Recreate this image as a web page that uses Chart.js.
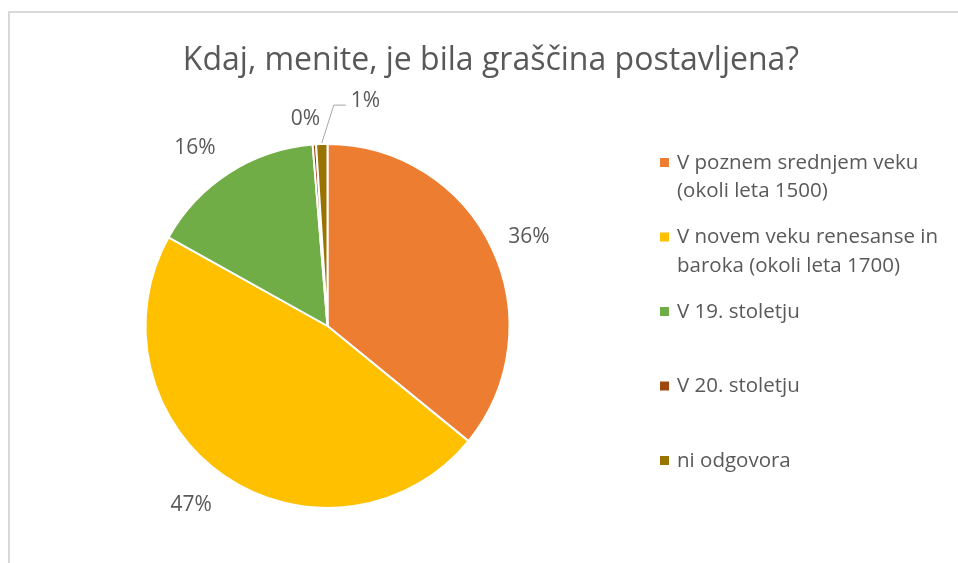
<!DOCTYPE html>
<html>
<head>
<meta charset="utf-8">
<script src="https://cdn.jsdelivr.net/npm/chart.js@4"></script>
<style>
  html, body { margin: 0; padding: 0; background: #fff; }
  #wrap { position: relative; width: 958px; height: 563px; overflow: hidden; }
  #frame { position: absolute; left: 8px; top: 11px; width: 1000px; height: 600px;
           border-left: 2px solid #d9d9d9; border-top: 2px solid #d9d9d9; }
  #myChart { position: absolute; left: 0; top: 0; }
</style>
</head>
<body>
<div id="wrap">
  <div id="frame"></div>
  <canvas id="myChart" width="958" height="563"></canvas>
</div>
<script>
// data
const title = 'Kdaj, menite, je bila graščina postavljena?';
const categories = [
  ['V poznem srednjem veku', '(okoli leta 1500)'],
  ['V novem veku renesanse in', 'baroka (okoli leta 1700)'],
  ['V 19. stoletju'],
  ['V 20. stoletju'],
  ['ni odgovora']
];
const values = [35.9, 47.2, 15.6, 0.3, 1.0];
const colors = ['#ED7D31', '#FFC000', '#70AD47', '#9E480E', '#997300'];

const textColor = '#595959';
const fontFamily = "'Open Sans', 'Noto Sans', sans-serif";

// nudges for the data labels (Excel-style best fit)
const labelNudge = [
  { dx: 0, dy: 7 },
  { dx: -11, dy: -5 },
  { dx: -12, dy: 10 },
  { dx: -6, dy: 15 },
  { dx: 45, dy: -2, leader: true }
];

const extras = {
  id: 'extras',
  afterDraw(chart) {
    const c = chart.ctx;
    c.save();
    c.fillStyle = textColor;

    // title
    c.font = '32px ' + fontFamily;
    c.textAlign = 'center';
    c.textBaseline = 'alphabetic';
    c.fillText(title, 491, 70);

    // data labels
    const meta = chart.getDatasetMeta(0);
    const total = values.reduce((a, b) => a + b, 0);
    c.font = '21px ' + fontFamily;
    c.textBaseline = 'middle';
    meta.data.forEach((arc, i) => {
      const p = arc.getProps(['x', 'y', 'startAngle', 'endAngle', 'outerRadius'], true);
      const mid = (p.startAngle + p.endAngle) / 2;
      const d = p.outerRadius + 41;
      const n = labelNudge[i];
      const lx = p.x + Math.cos(mid) * d + n.dx;
      const ly = p.y + Math.sin(mid) * d + n.dy;
      const txt = Math.round(values[i] / total * 100) + '%';
      if (n.leader) {
        const ex = p.x + Math.cos(mid) * (p.outerRadius + 1);
        const ey = p.y + Math.sin(mid) * (p.outerRadius + 1);
        const w = c.measureText(txt).width;
        c.strokeStyle = '#a6a6a6';
        c.lineWidth = 1;
        c.beginPath();
        c.moveTo(ex, ey);
        c.lineTo(lx - w / 2 - 17, ly + 4);
        c.lineTo(lx - w / 2 - 5, ly + 4);
        c.stroke();
      }
      c.textAlign = 'center';
      c.fillText(txt, lx, ly);
    });

    // legend
    c.font = '20.5px ' + fontFamily;
    c.textAlign = 'left';
    c.textBaseline = 'middle';
    categories.forEach((lines, i) => {
      const y0 = 163 + i * 74.5;
      c.fillStyle = colors[i];
      c.fillRect(660, y0 - 5, 9, 9);
      c.fillStyle = textColor;
      lines.forEach((ln, j) => c.fillText(ln, 677, y0 + j * 28.5));
    });
    c.restore();
  }
};

new Chart(document.getElementById('myChart'), {
  type: 'pie',
  data: {
    labels: categories,
    datasets: [{
      data: values,
      backgroundColor: colors,
      borderColor: '#ffffff',
      borderWidth: 2
    }]
  },
  options: {
    responsive: false,
    animation: false,
    layout: { padding: { left: 144, top: 143, right: 447, bottom: 54 } },
    plugins: {
      legend: { display: false },
      title: { display: false },
      tooltip: { enabled: false }
    }
  },
  plugins: [extras]
});
</script>
</body>
</html>
